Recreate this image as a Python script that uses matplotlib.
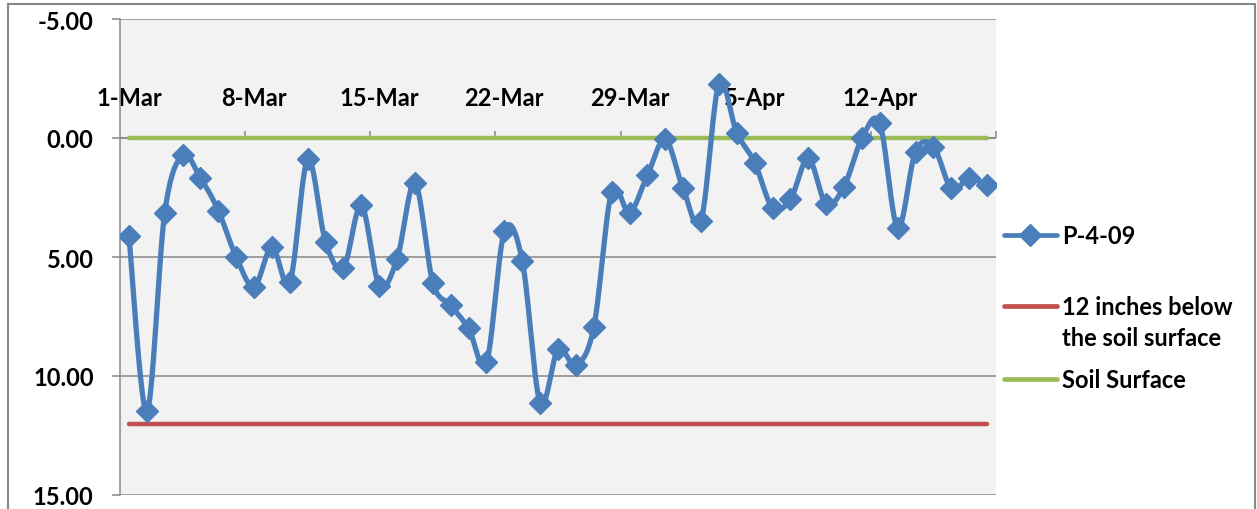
import numpy as np
import pandas as pd
import matplotlib
matplotlib.use("Agg")
import matplotlib.pyplot as plt
from matplotlib.lines import Line2D
from matplotlib.patches import Rectangle
from matplotlib.ticker import FixedLocator, FixedFormatter

plt.rcParams['font.family'] = ['Lato', 'DejaVu Sans']
plt.rcParams['font.weight'] = 'bold'

# ---- data ----
dates = pd.date_range("2009-03-01", "2009-04-18", freq="D")
p409 = [4.12, 11.48, 3.15, 0.73, 1.68, 3.05, 5.00, 6.25, 4.58, 6.07,
        0.90, 4.38, 5.45, 2.83, 6.20, 5.08, 1.88, 6.08, 7.03, 8.00,
        9.43, 3.92, 5.15, 11.12, 8.88, 9.55, 7.96, 2.27, 3.14, 1.57,
        0.06, 2.12, 3.47, -2.27, -0.22, 1.03, 2.93, 2.58, 0.86, 2.78,
        2.04, 0.02, -0.61, 3.77, 0.57, 0.36, 2.12, 1.70, 1.99]
below12 = [12.0] * len(dates)
surface = [0.0] * len(dates)
xtick_labels = ["1-Mar", "8-Mar", "15-Mar", "22-Mar", "29-Mar", "5-Apr", "12-Apr"]
ytick_values = [-5, 0, 5, 10, 15]
series_names = ["P-4-09", "12 inches below\nthe soil surface", "Soil Surface"]

BLUE = "#4A7EBB"
RED = "#C0504D"
GREEN = "#9BBB59"
GRID = "#888888"
FS = 17

x = np.array([(d - dates[0]).days for d in dates]) + 0.5
ndays = len(dates)


def smooth(xv, yv, n=24):
    pts = np.column_stack([xv, yv]).astype(float)
    P = np.vstack([pts[0], pts, pts[-1]])
    out = []
    t = np.linspace(0, 1, n, endpoint=False)[:, None]
    for i in range(1, len(P) - 2):
        p0, p1, p2, p3 = P[i - 1], P[i], P[i + 1], P[i + 2]
        c1 = p1 + (p2 - p0) / 6.0
        c2 = p2 - (p3 - p1) / 6.0
        seg = ((1 - t) ** 3) * p1 + 3 * ((1 - t) ** 2) * t * c1 + 3 * (1 - t) * t ** 2 * c2 + t ** 3 * p2
        out.append(seg)
    out.append(pts[-1][None, :])
    s = np.vstack(out)
    return s[:, 0], s[:, 1]


W, H = 1257, 510
fig = plt.figure(figsize=(W / 100, H / 100), dpi=100)
ax = fig.add_axes([120 / W, 1 - 496 / H, (996 - 120) / W, (496 - 20) / H])
ax.set_facecolor("#F2F2F2")

# reference lines
ax.plot(x, below12, color=RED, lw=3.2, solid_capstyle="round", zorder=3)
ax.plot(x, surface, color=GREEN, lw=3.2, solid_capstyle="round", zorder=3)
# data series
sx, sy = smooth(x, p409)
ax.plot(sx, sy, color=BLUE, lw=3.8, solid_joinstyle="round", zorder=4)
ax.plot(x, p409, linestyle="none", marker="D", markersize=11, color=BLUE, zorder=5)

ax.set_xlim(0, ndays)
ax.set_ylim(15, -5)

# y axis
ax.set_yticks(ytick_values)
ax.set_yticklabels([f"{v:.2f}" for v in ytick_values])
ax.tick_params(axis="y", direction="out", length=6, width=1.1, color=GRID, pad=13,
               labelsize=FS)
for v in ytick_values:
    ax.axhline(v, color=GRID, lw=1.1, zorder=1)

# x axis at y=0 with labels above
ax.spines["top"].set_position(("data", 0))
ax.spines["top"].set_visible(False)
ax.spines["bottom"].set_visible(False)
ax.spines["right"].set_visible(False)
ax.spines["left"].set_color(GRID)
ax.spines["left"].set_linewidth(1.1)
ax.xaxis.set_ticks_position("top")
ax.xaxis.set_label_position("top")
ax.xaxis.set_major_locator(FixedLocator(list(np.arange(len(xtick_labels)) * 7 + 0.5)))
ax.xaxis.set_major_formatter(FixedFormatter(xtick_labels))
ax.xaxis.set_minor_locator(FixedLocator(list(np.arange(1, 8) * 7)))
ax.tick_params(axis="x", which="major", length=0, pad=21, labelsize=FS)
ax.tick_params(axis="x", which="minor", direction="out", length=5, width=1.1, color=GRID)
ax.axhline(0, color=GRID, lw=1.1, zorder=1)

# legend (drawn manually)
def fx(px):
    return px / W


def fy(py):
    return 1 - py / H


handles = [(236, BLUE, True), (307, RED, False), (380, GREEN, False)]
text_y = [236, 323, 380]
for (hy, col, mk), ty, name in zip(handles, text_y, series_names):
    fig.add_artist(Line2D([fx(1004), fx(1057)], [fy(hy), fy(hy)], transform=fig.transFigure,
                          color=col, lw=3.4, solid_capstyle="round"))
    if mk:
        fig.add_artist(Line2D([fx(1030)], [fy(hy)], transform=fig.transFigure, marker="D",
                              markersize=11, color=col, linestyle="none"))
    fig.text(fx(1062), fy(ty), name, ha="left", va="center", fontsize=FS,
             fontweight="bold", linespacing=1.38)

# outer chart border
fig.add_artist(Rectangle((fx(8), -0.2), fx(1255) - fx(8), fy(5) + 0.2, transform=fig.transFigure,
                         fill=False, ec="#888888", lw=1.5))

fig.savefig("out.png", dpi=100)
